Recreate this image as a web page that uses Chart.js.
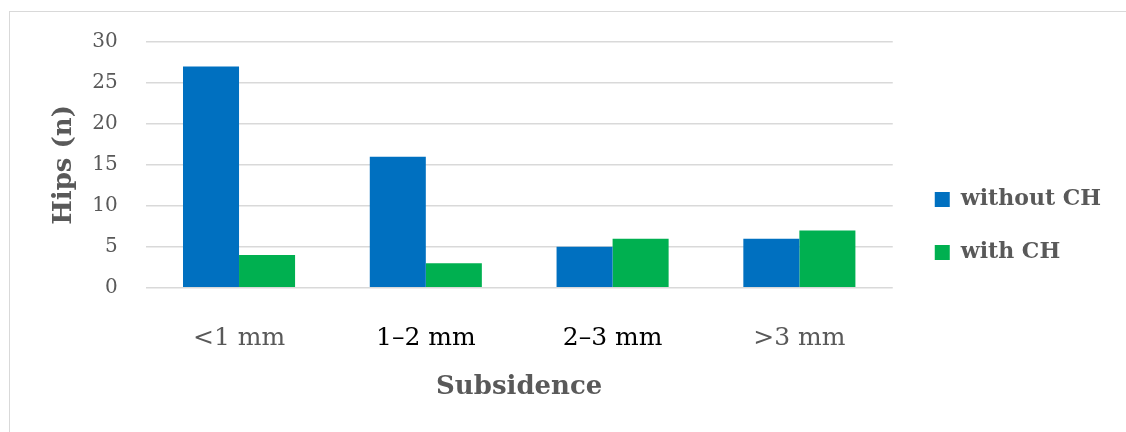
<!DOCTYPE html>
<html lang="en">
  <head>
    <meta charset="UTF-8">
    <title>Subsidence</title>
    <script src="https://cdn.jsdelivr.net/npm/chart.js"></script>
    <style>
      body { margin: 0; background: #fff; overflow: hidden; }
      .frame {
        position: absolute; left: 9px; top: 11px;
        width: 1200px; height: 500px;
        border: 1px solid #d9d9d9;
      }
      #chart { position: absolute; left: 0; top: 0; }
    </style>
  </head>
  <body>
    <div class="frame"></div>
    <canvas id="chart" width="1126" height="432"></canvas>
  <script>
// values
const categories = ['<1 mm', '1\u20132 mm', '2\u20133 mm', '>3 mm'];
const withoutCH = [27, 16, 5, 6];
const withCH = [4, 3, 6, 7];
const tickColors = ['#595959', '#000000', '#000000', '#595959'];

const serif = 'DejaVu Serif';
const grey = '#595959';

const ctx = document.getElementById('chart');

new Chart(ctx, {
  type: 'bar',
  data: {
    labels: categories,
    datasets: [
      { label: 'without CH', data: withoutCH, backgroundColor: '#0070c0' },
      { label: 'with CH', data: withCH, backgroundColor: '#00b050' }
    ]
  },
  options: {
    responsive: false,
    animation: false,
    devicePixelRatio: 1,
    datasets: { bar: { categoryPercentage: 0.6, barPercentage: 1.0 } },
    layout: { padding: { left: 47, top: 42, right: 15, bottom: 29 } },
    scales: {
      x: {
        grid: { display: true, drawOnChartArea: false, drawTicks: true, tickLength: 32, tickColor: 'transparent' },
        border: { display: false },
        ticks: {
          padding: 4,
          color: (c) => tickColors[c.index],
          font: { family: serif, size: 25 }
        },
        title: {
          display: true,
          text: 'Subsidence',
          color: grey,
          font: { family: serif, size: 26, weight: 'bold' },
          padding: { top: 14, bottom: 0 }
        }
      },
      y: {
        min: 0,
        max: 30,
        grid: { color: '#d9d9d9', lineWidth: 1.5, drawTicks: true, tickLength: 26, tickColor: 'transparent' },
        border: { display: false },
        ticks: {
          stepSize: 5,
          padding: 2,
          color: grey,
          font: { family: serif, size: 20 }
        },
        title: {
          display: true,
          text: 'Hips (n)',
          color: grey,
          font: { family: serif, size: 26, weight: 'bold' },
          padding: { top: 2, bottom: 10 }
        }
      },
      // hidden axis, only keeps the gap between plot and legend
      gap: {
        position: 'right',
        display: false,
        afterFit: (s) => { s.width = 11; }
      }
    },
    plugins: {
      legend: {
        position: 'right',
        title: { display: true, text: ' ', padding: 0, font: { size: 7, lineHeight: 1 } },
        labels: {
          boxWidth: 15,
          boxHeight: 15,
          padding: 31,
          color: grey,
          font: { family: serif, size: 22, weight: 'bold' }
        }
      },
      tooltip: { enabled: false }
    }
  }
});
</script>
  </body>
</html>
